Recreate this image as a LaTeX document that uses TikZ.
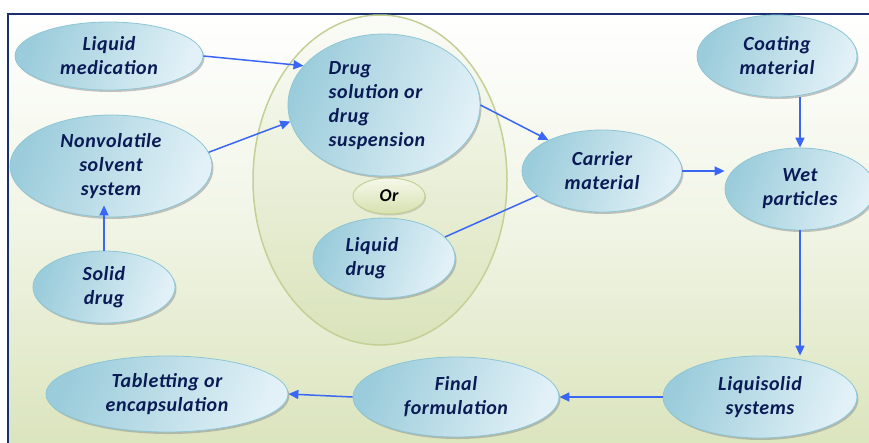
\documentclass[tikz,border=0pt]{standalone}
\usepackage{fontspec}
\setmainfont{Carlito}[LetterSpace=3]
\usetikzlibrary{shapes.geometric,arrows.meta,shadows}
\definecolor{framecol}{RGB}{26,47,110}
\definecolor{bgbot}{RGB}{218,228,188}
\definecolor{bgmid}{RGB}{240,244,228}
\definecolor{blueD}{RGB}{155,204,219}
\definecolor{blueL}{RGB}{226,241,247}
\definecolor{edgecol}{RGB}{140,198,214}
\definecolor{txtcol}{RGB}{10,26,85}
\definecolor{arrowcol}{RGB}{58,102,245}
\definecolor{olivecol}{RGB}{195,208,150}
\definecolor{ortop}{RGB}{246,248,234}
\definecolor{orbot}{RGB}{214,225,176}

\tikzset{
  lbl/.style={font=\fontsize{20}{24}\selectfont\bfseries\itshape, text=txtcol},
  ellip/.style={ellipse, draw=edgecol, line width=0.8pt, inner sep=0pt,
    left color=blueD, right color=blueL, shading angle=70,
    drop shadow={shadow xshift=1.5pt, shadow yshift=-2pt, fill=black!45, opacity=0.5},
    lbl, align=center},
  ornode/.style={ellipse, draw=olivecol, line width=1pt, inner sep=0pt,
    top color=ortop, bottom color=orbot,
    drop shadow={shadow xshift=1pt, shadow yshift=-1.5pt, fill=black!40, opacity=0.4},
    font=\fontsize{18}{20}\selectfont\bfseries\itshape, text=black},
  flow/.style={draw=arrowcol, line width=1.5pt, -{Triangle[length=10pt,width=9pt]}},
  link/.style={draw=arrowcol, line width=1.5pt},
}

\begin{document}
\begin{tikzpicture}[x=1pt,y=-1pt]
  \useasboundingbox (0,0) rectangle (869,442);
  \clip (0,0) rectangle (869,442);

  % background panel and frame
  \shade[top color=white, bottom color=bgbot, middle color=bgmid] (8,14) rectangle (880,450);
  \draw[framecol, line width=1.6pt] (8,460) -- (8,14) -- (880,14);

  % grouping ellipse round the two drug forms
  \node[ellipse, draw=olivecol, line width=1.5pt, top color=white!70!bgmid, bottom color=bgbot!95!olivecol,
        minimum width=254pt, minimum height=330pt] (group) at (380,180) {};

  % left column
  \node[ellip, minimum width=188pt, minimum height=68pt] (liqmed) at (109,56) {Liquid\\medication};
  \node[ellip, minimum width=202pt, minimum height=102pt] (nonvol) at (111,166) {Nonvolatile\\solvent\\system};
  \node[ellip, minimum width=142pt, minimum height=72pt] (solid) at (104,287) {Solid\\drug};

  % drug forms
  \node[ellip, minimum width=192pt, minimum height=142pt] (drugsol) at (384,105) {};
  \node[lbl, align=left] (drugsoltxt) at (377,106) {Drug\\solution or\\drug\\suspension};
  \node[ornode, minimum width=72pt, minimum height=36pt] (or) at (389,196) {Or};
  \node[ellip, minimum width=142pt, minimum height=80pt] (liqdrug) at (384,258) {};
  \node[lbl, align=left] (liqdrugtxt) at (372,258) {Liquid\\drug};

  % right side
  \node[ellip, minimum width=160pt, minimum height=82pt] (carrier) at (602,171) {Carrier\\material};
  \node[ellip, minimum width=160pt, minimum height=82pt] (coating) at (777,56) {Coating\\material};
  \node[ellip, minimum width=150pt, minimum height=82pt] (wet) at (800,189) {Wet\\particles};

  % bottom row
  \node[ellip, minimum width=242pt, minimum height=76pt] (tablet) at (167,394) {Tabletting or\\encapsulation};
  \node[ellip, minimum width=206pt, minimum height=80pt] (final) at (456,397) {Final\\formulation};
  \node[ellip, minimum width=194pt, minimum height=82pt] (liqsol) at (760,397) {Liquisolid\\systems};

  % connectors
  \draw[flow] (liqmed.east) -- (drugsol.154);
  \draw[flow] (nonvol.8) -- (drugsol.190);
  \draw[flow] (solid.north) -- ([yshift=12pt]solid.north |- nonvol.south);
  \draw[flow] (drugsol.east) -- (carrier.150);
  \draw[link] (liqdrug.19) -- (carrier.201);
  \draw[flow] (carrier.east) -- (wet.west |- carrier.east);
  \draw[flow] (wet.north |- coating.south) -- (wet.north);
  \draw[flow] (wet.south) -- (wet.south |- liqsol.north);
  \draw[flow] (liqsol.west) -- (final.east);
  \draw[flow] (final.west) -- (tablet.east);
\end{tikzpicture}
\end{document}
